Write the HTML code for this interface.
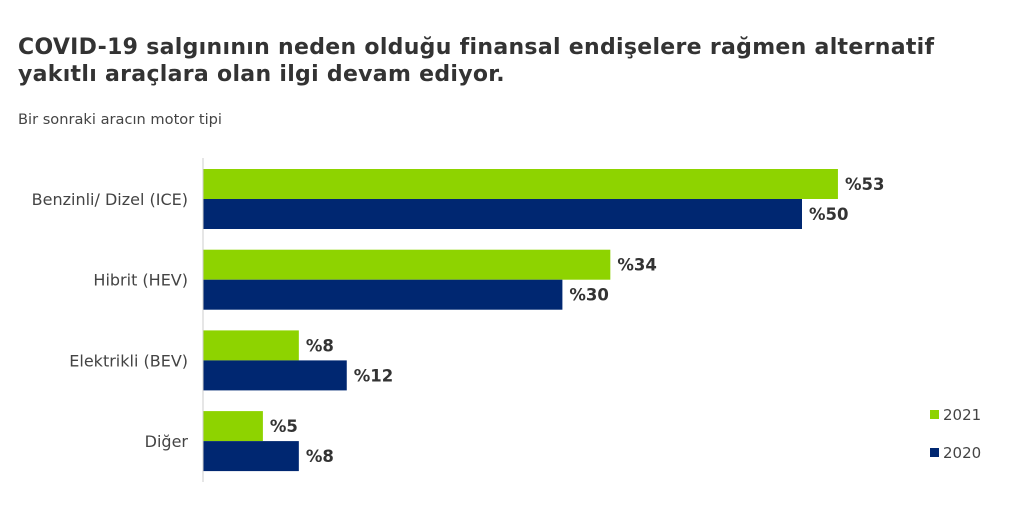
<!DOCTYPE html>
<html><head><meta charset="utf-8"><style>
body{margin:0;width:1024px;height:515px;background:#fff;font-family:"DejaVu Sans",sans-serif;overflow:hidden;position:relative}
#title{position:absolute;left:18px;top:34px;font-size:22px;letter-spacing:0.3px;font-weight:bold;color:#333;line-height:27px;margin:0;white-space:nowrap}
#sub{position:absolute;left:18px;top:111px;font-size:14.6px;color:#444}
svg{position:absolute;left:0;top:0;font-family:"DejaVu Sans",sans-serif}
</style></head><body>
<h1 id="title">COVID-19 salgınının neden olduğu finansal endişelere rağmen alternatif<br>yakıtlı araçlara olan ilgi devam ediyor.</h1>
<div id="sub">Bir sonraki aracın motor tipi</div>
<svg id="chart" width="1024" height="515"></svg>
<script>
const categories=["Benzinli/ Dizel (ICE)","Hibrit (HEV)","Elektrikli (BEV)","Diğer"];
const values2021=[53,34,8,5];
const values2020=[50,30,12,8];
const seriesNames=["2021","2020"];
const colors=["#8ed300","#002771"];
const ns="http://www.w3.org/2000/svg";
const svg=document.getElementById('chart');
const x0=203,pxPer=11.98,top0=169,step=80.7,bh=30;
const xs=v=>x0+v*pxPer;
function mk(t,a){const e=document.createElementNS(ns,t);for(const k in a)e.setAttribute(k,a[k]);svg.appendChild(e);return e;}
categories.forEach((c,i)=>{
  const y=top0+i*step;
  [values2021[i],values2020[i]].forEach((v,j)=>{
    const r=mk('rect',{x:x0,y:y+j*bh,width:xs(v)-x0,height:bh,fill:colors[j]});
    
    
    const t=mk('text',{x:xs(v)+7,y:y+j*bh+bh/2+6,'font-size':16.5,'font-weight':'bold',fill:'#333'});
    t.textContent='%'+v;
    
    
  });
  const l=mk('text',{x:188,y:y+bh+6,'font-size':16,fill:'#444','text-anchor':'end'});
  l.textContent=c;
  
  
});
const ax=mk('line',{x1:x0,y1:158,x2:x0,y2:482,stroke:'#ccc','stroke-width':1});


seriesNames.forEach((s,j)=>{
  const y=415+j*38;
  const r=mk('rect',{x:930,y:y-5,width:9,height:9,fill:colors[j]});
  
  
  const t=mk('text',{x:943,y:y+5,'font-size':15,fill:'#444'});
  t.textContent=s;
  
  
});
</script>
</body></html>
